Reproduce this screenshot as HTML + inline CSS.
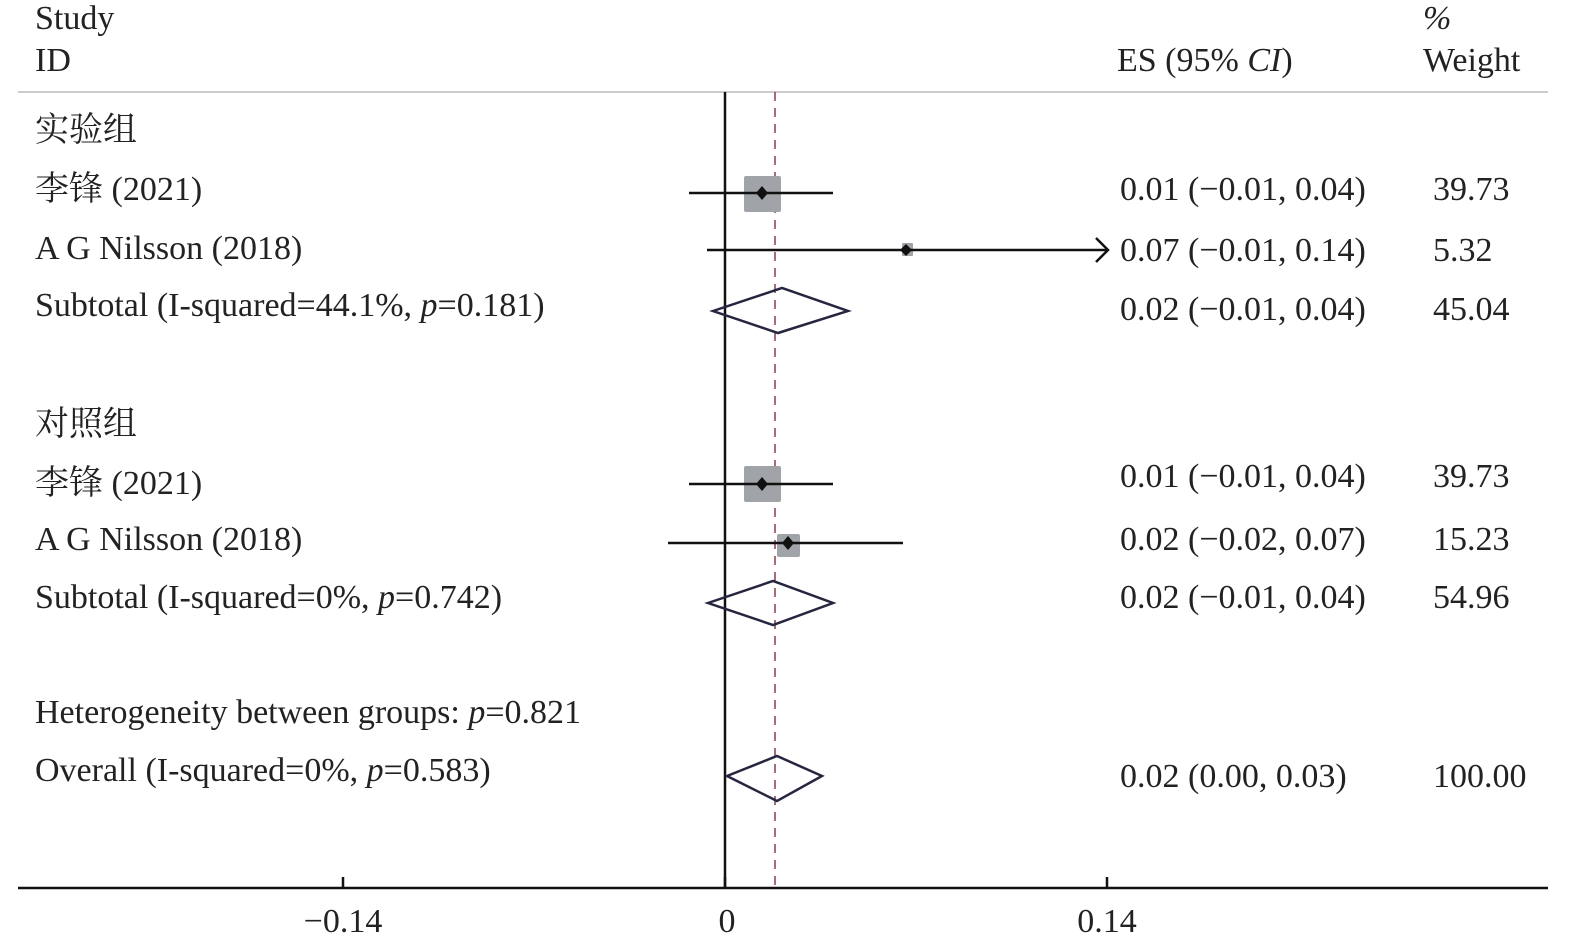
<!DOCTYPE html>
<html><head><meta charset="utf-8"><style>
html,body{margin:0;padding:0;background:#fff;}
svg{display:block}
text{font-family:"Liberation Serif","Noto Serif CJK SC","Noto Sans CJK SC",serif;font-size:34px;fill:#222;}
</style></head><body>
<svg width="1575" height="949" viewBox="0 0 1575 949" xmlns="http://www.w3.org/2000/svg">
<line x1="18" y1="92" x2="1548" y2="92" stroke="#bbb" stroke-width="1.5"/>
<line x1="725" y1="92" x2="725" y2="888" stroke="#111" stroke-width="2.5"/>
<line x1="775" y1="92" x2="775" y2="888" stroke="#8b3a4a" stroke-width="1.5" stroke-dasharray="9,7"/>
<line x1="18" y1="888" x2="1548" y2="888" stroke="#111" stroke-width="2.5"/>
<line x1="343" y1="877" x2="343" y2="888" stroke="#111" stroke-width="2.5"/>
<line x1="725" y1="877" x2="725" y2="888" stroke="#111" stroke-width="2.5"/>
<line x1="1107" y1="877" x2="1107" y2="888" stroke="#111" stroke-width="2.5"/>
<text x="343" y="932" text-anchor="middle">−0.14</text>
<text x="727" y="932" text-anchor="middle">0</text>
<text x="1107" y="932" text-anchor="middle">0.14</text>

<text x="35" y="29">Study</text>
<text x="35" y="71">ID</text>
<text x="1117" y="71">ES (95% <tspan font-style="italic">CI</tspan>)</text>
<text x="1423" y="29" font-style="italic">%</text>
<text x="1423" y="71">Weight</text>

<text x="35" y="141">实验组</text>
<text x="35" y="200">李锋 (2021)</text>
<text x="35" y="259">A G Nilsson (2018)</text>
<text x="35" y="316">Subtotal (I-squared=44.1%, <tspan font-style="italic">p</tspan>=0.181)</text>
<text x="35" y="435">对照组</text>
<text x="35" y="494">李锋 (2021)</text>
<text x="35" y="550">A G Nilsson (2018)</text>
<text x="35" y="608">Subtotal (I-squared=0%, <tspan font-style="italic">p</tspan>=0.742)</text>
<text x="35" y="723">Heterogeneity between groups: <tspan font-style="italic">p</tspan>=0.821</text>
<text x="35" y="781">Overall (I-squared=0%, <tspan font-style="italic">p</tspan>=0.583)</text>

<text x="1120" y="200">0.01 (−0.01, 0.04)</text>
<text x="1120" y="261">0.07 (−0.01, 0.14)</text>
<text x="1120" y="320">0.02 (−0.01, 0.04)</text>
<text x="1120" y="487">0.01 (−0.01, 0.04)</text>
<text x="1120" y="550">0.02 (−0.02, 0.07)</text>
<text x="1120" y="608">0.02 (−0.01, 0.04)</text>
<text x="1120" y="787">0.02 (0.00, 0.03)</text>
<text x="1433" y="200">39.73</text>
<text x="1433" y="261">5.32</text>
<text x="1433" y="320">45.04</text>
<text x="1433" y="487">39.73</text>
<text x="1433" y="550">15.23</text>
<text x="1433" y="608">54.96</text>
<text x="1433" y="787">100.00</text>

<rect x="744" y="176" width="37" height="36" rx="2" fill="#a0a3a7"/>
<line x1="689" y1="193" x2="833" y2="193" stroke="#111" stroke-width="2.5"/>
<path d="M762 186 L768 193 L762 200 L756 193Z" fill="#111"/>
<rect x="902" y="243" width="11" height="13" rx="1" fill="#a0a3a7"/>
<line x1="707" y1="250" x2="1106" y2="250" stroke="#111" stroke-width="2.5"/>
<path d="M1096 238 L1108 250 L1096 262" fill="none" stroke="#111" stroke-width="2.5"/>
<path d="M906 244 L912 250 L906 256 L900 250Z" fill="#111"/>
<path d="M713 311 L782 288 L848 311 L778 333 Z" fill="none" stroke="#262640" stroke-width="2.5"/>
<rect x="744" y="466" width="37" height="36" rx="2" fill="#a0a3a7"/>
<line x1="689" y1="484" x2="833" y2="484" stroke="#111" stroke-width="2.5"/>
<path d="M762 477 L768 484 L762 491 L756 484Z" fill="#111"/>
<rect x="777" y="534" width="23" height="23" rx="2" fill="#a0a3a7"/>
<line x1="668" y1="543" x2="903" y2="543" stroke="#111" stroke-width="2.5"/>
<path d="M788 536 L794 543 L788 550 L782 543Z" fill="#111"/>
<path d="M708 603 L773 581 L833 603 L773 625 Z" fill="none" stroke="#262640" stroke-width="2.5"/>
<path d="M727 776 L777 756 L822 776 L777 801 Z" fill="none" stroke="#262640" stroke-width="2.5"/>
</svg>
</body></html>
